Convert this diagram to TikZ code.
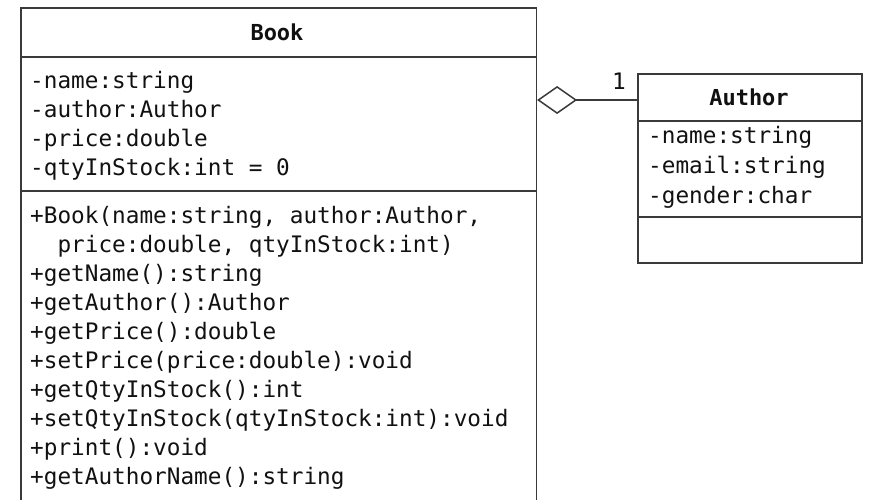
\documentclass[tikz,border=0pt]{standalone}
\usepackage{fontspec}
\setmonofont{DejaVu Sans Mono}
\usetikzlibrary{arrows.meta}
\definecolor{umlline}{HTML}{3A3A3A}
\definecolor{umltext}{HTML}{111111}
\tikzset{
  classbox/.style={draw=umlline, line width=1.6pt, fill=white, inner sep=0pt, anchor=north west},
  sepline/.style={draw=umlline, line width=1.6pt},
  member/.style={anchor=base west, inner sep=0pt, text=umltext, font=\ttfamily\fontsize{22.7}{29}\selectfont},
  classname/.style={anchor=base, inner sep=0pt, text=umltext, font=\ttfamily\bfseries\fontsize{22}{29}\selectfont},
  mult/.style={anchor=base, inner sep=0pt, text=umltext, font=\ttfamily\fontsize{22.7}{29}\selectfont},
  aggregation/.style={draw=umlline, line width=1.5pt, {Diamond[open, length=40pt, width=28pt, line width=1.5pt]}-}
}
\begin{document}
\begin{tikzpicture}[x=1pt, y=-1pt]
\useasboundingbox (0,0) rectangle (871,499);
\clip (0,0) rectangle (871,499);
\fill[white] (0,0) rectangle (871,499);

% Book class
\node[classbox, minimum width=515.5pt, minimum height=520pt] (book) at (20,7) {};
\draw[sepline] (20,57) -- (535.5,57);
\draw[sepline] (20,191) -- (535.5,191);
\node[classname] (bookname) at (277,40) {Book};
\node[member] (ba1) at (30,88)  {-name:string};
\node[member] (ba2) at (30,117) {-author:Author};
\node[member] (ba3) at (30,146) {-price:double};
\node[member] (ba4) at (30,175) {-qtyInStock:int = 0};
\node[member] (bm1)  at (30,223) {+Book(name:string, author:Author,};
\node[member] (bm1b) at (30,252) {\ \ price:double, qtyInStock:int)};
\node[member] (bm2)  at (30,281) {+getName():string};
\node[member] (bm3)  at (30,310) {+getAuthor():Author};
\node[member] (bm4)  at (30,339) {+getPrice():double};
\node[member] (bm5)  at (30,368) {+setPrice(price:double):void};
\node[member] (bm6)  at (30,397) {+getQtyInStock():int};
\node[member] (bm7)  at (30,426) {+setQtyInStock(qtyInStock:int):void};
\node[member] (bm8)  at (30,455) {+print():void};
\node[member] (bm9)  at (30,484) {+getAuthorName():string};

% Author class
\node[classbox, minimum width=224pt, minimum height=189pt] (author) at (637,73) {};
\draw[sepline] (637,121) -- (861,121);
\draw[sepline] (637,217) -- (861,217);
\node[classname] (authorname) at (749,105) {Author};
\node[member] (aa1) at (648,143) {-name:string};
\node[member] (aa2) at (648,173) {-email:string};
\node[member] (aa3) at (648,203) {-gender:char};

% aggregation: Book has one Author
\coordinate (link) at ([yshift=-27pt]author.north west);
\draw[aggregation] (book.east |- link) -- (link);
\node[mult] (multone) at (619,89) {1};
\end{tikzpicture}
\end{document}
